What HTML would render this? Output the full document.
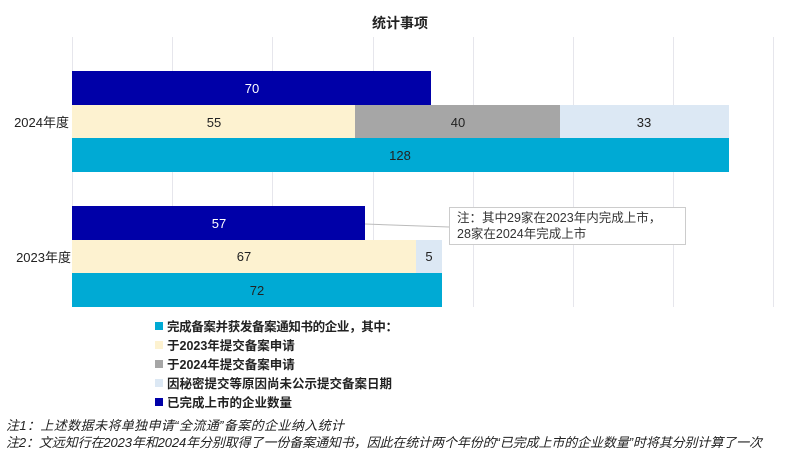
<!DOCTYPE html>
<html><head><meta charset="utf-8"><style>
body{margin:0;background:#fff;}
</style></head><body>
<svg width="800" height="456" xmlns="http://www.w3.org/2000/svg" font-family="'Liberation Sans','Noto Sans CJK SC',sans-serif">
<rect width="800" height="456" fill="#fff"/>
<g stroke="#e6e6ec" stroke-width="1">
<line x1="72.5" y1="37" x2="72.5" y2="307"/><line x1="172.5" y1="37" x2="172.5" y2="307"/>
<line x1="272.5" y1="37" x2="272.5" y2="307"/><line x1="373.5" y1="37" x2="373.5" y2="307"/>
<line x1="473.5" y1="37" x2="473.5" y2="307"/><line x1="573.5" y1="37" x2="573.5" y2="307"/>
<line x1="673.5" y1="37" x2="673.5" y2="307"/><line x1="773.5" y1="37" x2="773.5" y2="307"/>
</g>
<text x="400" y="28" text-anchor="middle" font-size="14" font-weight="bold" fill="#222">统计事项</text>
<rect x="72" y="71" width="359" height="34" fill="#0000a8"/>
<rect x="72" y="105" width="283" height="33" fill="#fdf2d0"/>
<rect x="355" y="105" width="205" height="33" fill="#a6a6a6"/>
<rect x="560" y="105" width="169" height="33" fill="#dce8f4"/>
<rect x="72" y="138" width="657" height="34" fill="#00aad4"/>
<rect x="72" y="206" width="293" height="34" fill="#0000a8"/>
<rect x="72" y="240" width="344" height="33" fill="#fdf2d0"/>
<rect x="416" y="240" width="26" height="33" fill="#dce8f4"/>
<rect x="72" y="273" width="370" height="34" fill="#00aad4"/>
<g font-size="13" text-anchor="middle">
<text x="252" y="93" fill="#fff">70</text>
<text x="214" y="127" fill="#222">55</text>
<text x="458" y="127" fill="#222">40</text>
<text x="644" y="127" fill="#222">33</text>
<text x="400" y="160" fill="#222">128</text>
<text x="219" y="228" fill="#fff">57</text>
<text x="244" y="261" fill="#222">67</text>
<text x="429" y="261" fill="#222">5</text>
<text x="257" y="295" fill="#222">72</text>
</g>
<g font-size="13" text-anchor="end" fill="#222">
<text x="69" y="127">2024年度</text>
<text x="71" y="262">2023年度</text>
</g>
<line x1="365" y1="224" x2="449" y2="227" stroke="#bbb"/>
<rect x="449.5" y="207.5" width="236" height="37" fill="#fff" stroke="#ccc"/>
<text x="457" y="222" font-size="12.5" fill="#333">注：其中29家在2023年内完成上市，</text>
<text x="457" y="238" font-size="12.5" fill="#333">28家在2024年完成上市</text>
<g font-size="12.5" font-weight="bold" fill="#222">
<rect x="155" y="322" width="8" height="8" fill="#00aad4"/><text x="167" y="331" textLength="231">完成备案并获发备案通知书的企业，其中：</text>
<rect x="155" y="341" width="8" height="8" fill="#fdf2d0"/><text x="167" y="350">于2023年提交备案申请</text>
<rect x="155" y="360" width="8" height="8" fill="#a6a6a6"/><text x="167" y="369">于2024年提交备案申请</text>
<rect x="155" y="379" width="8" height="8" fill="#dce8f4"/><text x="167" y="388" textLength="225">因秘密提交等原因尚未公示提交备案日期</text>
<rect x="155" y="398" width="8" height="8" fill="#0000a8"/><text x="167" y="407">已完成上市的企业数量</text>
</g>
<g font-size="13" font-style="italic" fill="#222">
<text x="6" y="430" textLength="338">注1：上述数据未将单独申请“全流通”备案的企业纳入统计</text>
<text x="6" y="447" textLength="756">注2：文远知行在2023年和2024年分别取得了一份备案通知书，因此在统计两个年份的“已完成上市的企业数量”时将其分别计算了一次</text>
</g>
</svg>
</body></html>
